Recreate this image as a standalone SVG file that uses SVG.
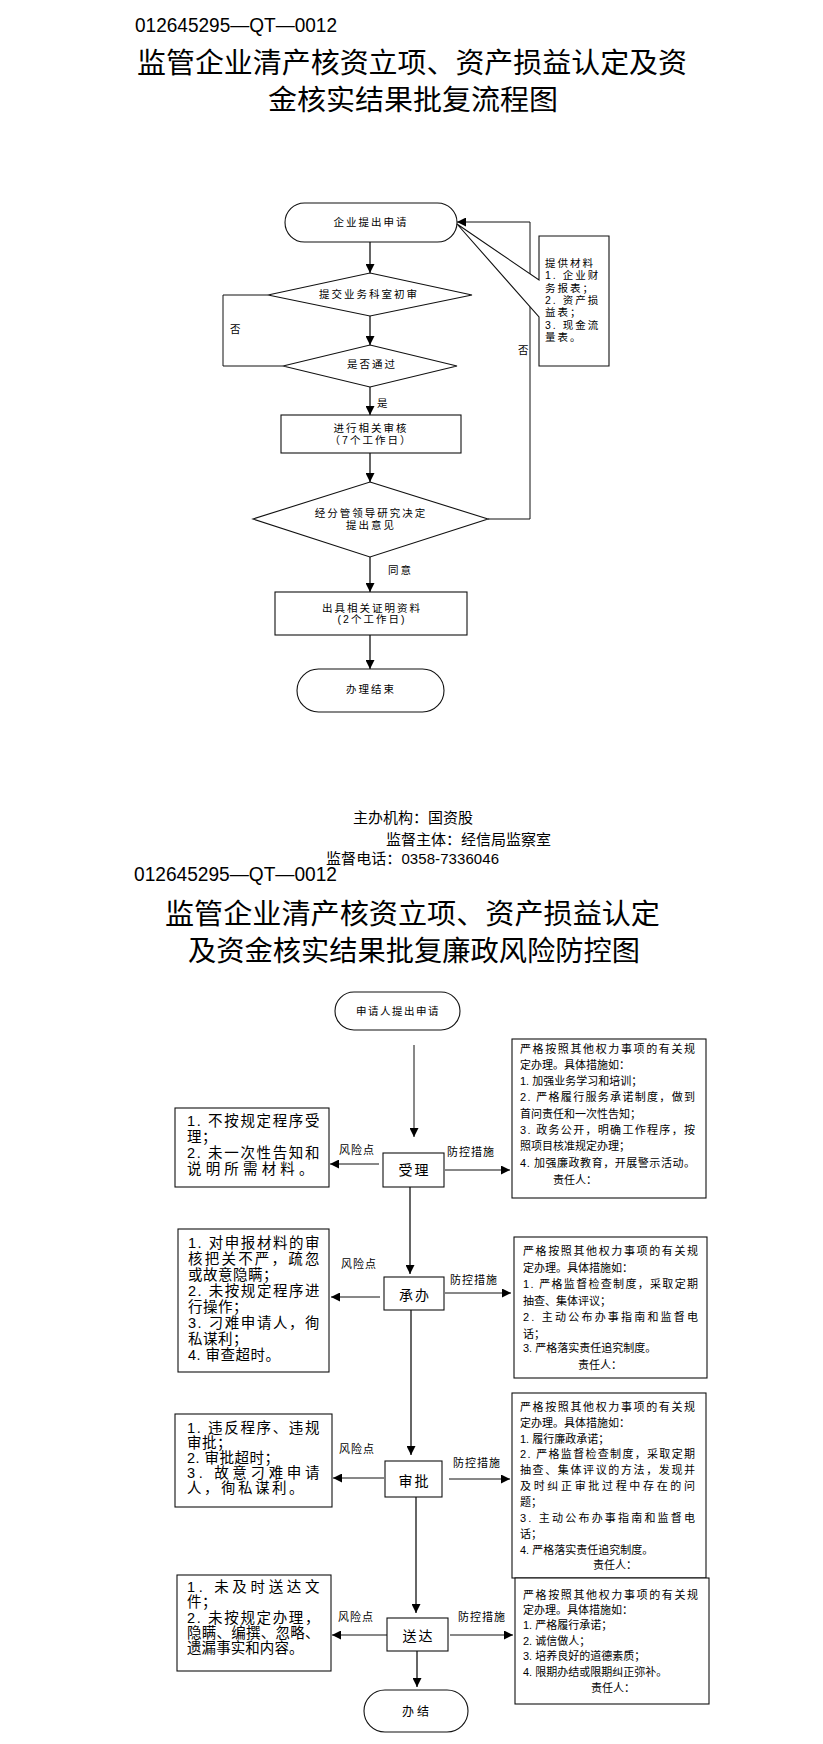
<svg xmlns="http://www.w3.org/2000/svg" width="823" height="1744" viewBox="0 0 823 1744">
<style>
text{font-family:"Liberation Sans","Noto Sans CJK SC",sans-serif;fill:#000;dominant-baseline:central}
.hd{font-size:20px}
.tt{font-size:28px}
.ft{font-size:15px}
.s{font-size:10.5px;letter-spacing:2px;text-anchor:middle}
.sl{font-size:10.5px;letter-spacing:2px}
.lb{font-size:14.5px;letter-spacing:0.5px}
.rb{font-size:11px}
.lab{font-size:11px;letter-spacing:1px}
.ct{font-size:14px;letter-spacing:2px;text-anchor:middle}
.sh{fill:#fff;stroke:#111;stroke-width:1.1}
.ln{fill:none;stroke:#111;stroke-width:1}
.ar{fill:none;stroke:#333;stroke-width:1.5;marker-end:url(#ah)}
.arl{fill:none;stroke:#111;stroke-width:1;marker-end:url(#ah)}
</style>
<defs>
<marker id="ah" markerUnits="userSpaceOnUse" markerWidth="9" markerHeight="9" refX="9" refY="4.5" orient="auto">
<path d="M0,0 L9,4.5 L0,9 z" fill="#000"/>
</marker>
</defs>
<rect width="823" height="1744" fill="#fff"/>

<g id="header1">
<text class="hd" x="135" y="25" textLength="202" lengthAdjust="spacingAndGlyphs">012645295—QT—0012</text>
<text class="tt" x="137" y="63" textLength="550" lengthAdjust="spacingAndGlyphs">监管企业清产核资立项、资产损益认定及资</text>
<text class="tt" x="268" y="100" textLength="290" lengthAdjust="spacingAndGlyphs">金核实结果批复流程图</text>
</g>

<g id="flow1-connectors">
<line class="ar" x1="370" y1="242" x2="370" y2="273"/>
<line class="ar" x1="370" y1="316" x2="370" y2="345"/>
<polyline class="ln" points="283,366 223,366 223,295 268,295"/>
<text class="sl" x="230" y="329">否</text>
<line class="ar" x1="370" y1="387" x2="370" y2="415"/>
<text class="sl" x="377" y="403">是</text>
<line class="ar" x1="370" y1="453" x2="370" y2="482"/>
<polyline class="arl" points="488,519 530,519 530,222 457,222"/>
<text class="sl" x="518" y="350">否</text>
<line class="ar" x1="370" y1="557" x2="370" y2="592"/>
<text class="sl" x="388" y="570">同意</text>
<line class="ar" x1="370" y1="635" x2="370" y2="669"/>
</g>

<g id="f1-start">
<rect class="sh" x="285" y="203" width="172" height="39" rx="19.5"/>
<text class="s" x="371" y="222">企业提出申请</text>
</g>
<g id="f1-review1">
<polygon class="sh" points="370,273 472,295 370,316 268,295"/>
<text class="s" x="369" y="294">提交业务科室初审</text>
</g>
<g id="f1-pass">
<polygon class="sh" points="370,345 457,366 370,387 283,366"/>
<text class="s" x="372" y="364">是否通过</text>
</g>
<g id="f1-audit">
<rect class="sh" x="281" y="415" width="180" height="38"/>
<text class="s" x="371" y="428">进行相关审核</text>
<text class="s" x="371" y="440">（7个工作日）</text>
</g>
<g id="f1-decide">
<polygon class="sh" points="370,482 488,519 370,557 253,519"/>
<text class="s" x="371" y="513">经分管领导研究决定</text>
<text class="s" x="371" y="525">提出意见</text>
</g>
<g id="f1-issue">
<rect class="sh" x="275" y="592" width="192" height="43"/>
<text class="s" x="372" y="608">出具相关证明资料</text>
<text class="s" x="372" y="619">(2个工作日)</text>
</g>
<g id="f1-end">
<rect class="sh" x="297" y="669" width="147" height="43" rx="21.5"/>
<text class="s" x="371" y="689">办理结束</text>
</g>
<g id="f1-callout">
<path class="sh" d="M539,236 H609 V366 H539 V317 L457,224 L539,280 Z"/>
<text class="sl" x="545" y="263">提供材料</text>
<text class="sl" x="545" y="275">1. 企业财</text>
<text class="sl" x="545" y="288">务报表；</text>
<text class="sl" x="545" y="300">2. 资产损</text>
<text class="sl" x="545" y="312">益表；</text>
<text class="sl" x="545" y="325">3. 现金流</text>
<text class="sl" x="545" y="337">量表。</text>
</g>

<g id="footer">
<text class="ft" x="353" y="817" textLength="120">主办机构：国资股</text>
<text class="ft" x="386" y="839" textLength="165">监督主体：经信局监察室</text>
<text class="ft" x="326" y="858" textLength="173">监督电话：0358-7336046</text>
</g>

<g id="header2">
<text class="hd" x="134" y="874" textLength="203" lengthAdjust="spacingAndGlyphs">012645295—QT—0012</text>
<text class="tt" x="165" y="914" textLength="495" lengthAdjust="spacingAndGlyphs">监管企业清产核资立项、资产损益认定</text>
<text class="tt" x="188" y="951" textLength="452" lengthAdjust="spacingAndGlyphs">及资金核实结果批复廉政风险防控图</text>
</g>

<g id="flow2-connectors">
<line class="arl" x1="414" y1="1045" x2="414" y2="1137"/>
<line class="ar" x1="410" y1="1187" x2="410" y2="1274"/>
<line class="ar" x1="411" y1="1310" x2="411" y2="1455"/>
<line class="ar" x1="416" y1="1497" x2="416" y2="1613"/>
<line class="ar" x1="417" y1="1651" x2="417" y2="1687"/>
<line class="arl" x1="379" y1="1164" x2="330" y2="1164"/>
<line class="arl" x1="445" y1="1170" x2="510" y2="1170"/>
<line class="arl" x1="380" y1="1297" x2="331" y2="1297"/>
<line class="arl" x1="445" y1="1293" x2="511" y2="1293"/>
<line class="arl" x1="384" y1="1478" x2="333" y2="1478"/>
<line class="arl" x1="449" y1="1479" x2="510" y2="1479"/>
<line class="arl" x1="387" y1="1635" x2="332" y2="1635"/>
<line class="arl" x1="450" y1="1635" x2="513" y2="1635"/>
<text class="lab" x="339" y="1150">风险点</text>
<text class="lab" x="447" y="1152">防控措施</text>
<text class="lab" x="341" y="1264">风险点</text>
<text class="lab" x="450" y="1280">防控措施</text>
<text class="lab" x="339" y="1449">风险点</text>
<text class="lab" x="453" y="1463">防控措施</text>
<text class="lab" x="338" y="1617">风险点</text>
<text class="lab" x="458" y="1617">防控措施</text>
</g>

<g id="f2-start">
<rect class="sh" x="335" y="992" width="125" height="38" rx="19"/>
<text class="s" x="398" y="1011" style="letter-spacing:1.5px">申请人提出申请</text>
</g>

<g id="f2-accept">
<rect class="sh" x="383" y="1153" width="61" height="34"/>
<text class="ct" x="414.5" y="1170">受理</text>
</g>
<g id="f2-risk1">
<rect class="sh" x="175" y="1108" width="154" height="79"/>
<text class="lb" x="187" y="1121" textLength="133">1. 不按规定程序受</text>
<text class="lb" x="187" y="1137">理；</text>
<text class="lb" x="187" y="1153" textLength="133">2. 未一次性告知和</text>
<text class="lb" x="187" y="1169" textLength="127">说明所需材料。</text>
</g>
<g id="f2-ctrl1">
<rect class="sh" x="512" y="1039" width="194" height="159"/>
<text class="rb" x="520" y="1049" textLength="175">严格按照其他权力事项的有关规</text>
<text class="rb" x="520" y="1065">定办理。具体措施如：</text>
<text class="rb" x="520" y="1081">1. 加强业务学习和培训；</text>
<text class="rb" x="520" y="1097" textLength="175">2. 严格履行服务承诺制度，做到</text>
<text class="rb" x="520" y="1114">首问责任和一次性告知；</text>
<text class="rb" x="520" y="1130" textLength="175">3. 政务公开，明确工作程序，按</text>
<text class="rb" x="520" y="1146">照项目核准规定办理；</text>
<text class="rb" x="520" y="1163" textLength="175">4. 加强廉政教育，开展警示活动。</text>
<text class="rb" x="553" y="1180">责任人：</text>
</g>

<g id="f2-handle">
<rect class="sh" x="384" y="1277" width="60" height="33"/>
<text class="ct" x="415" y="1295">承办</text>
</g>
<g id="f2-risk2">
<rect class="sh" x="178" y="1229" width="151" height="143"/>
<text class="lb" x="188" y="1243" textLength="132">1. 对申报材料的审</text>
<text class="lb" x="188" y="1259" textLength="132">核把关不严，疏忽</text>
<text class="lb" x="188" y="1275">或故意隐瞒；</text>
<text class="lb" x="188" y="1291" textLength="132">2. 未按规定程序进</text>
<text class="lb" x="188" y="1307">行操作；</text>
<text class="lb" x="188" y="1323" textLength="132">3. 刁难申请人，徇</text>
<text class="lb" x="188" y="1339">私谋利；</text>
<text class="lb" x="188" y="1355">4. 审查超时。</text>
</g>
<g id="f2-ctrl2">
<rect class="sh" x="514" y="1237" width="193" height="141"/>
<text class="rb" x="523" y="1251" textLength="175">严格按照其他权力事项的有关规</text>
<text class="rb" x="523" y="1267.5">定办理。具体措施如：</text>
<text class="rb" x="523" y="1284" textLength="175">1. 严格监督检查制度，采取定期</text>
<text class="rb" x="523" y="1300.5">抽查、集体评议；</text>
<text class="rb" x="523" y="1317" textLength="175">2. 主动公布办事指南和监督电</text>
<text class="rb" x="523" y="1333.5">话；</text>
<text class="rb" x="523" y="1348">3. 严格落实责任追究制度。</text>
<text class="rb" x="578" y="1365">责任人：</text>
</g>

<g id="f2-approve">
<rect class="sh" x="385" y="1461" width="57" height="36"/>
<text class="ct" x="414.5" y="1481">审批</text>
</g>
<g id="f2-risk3">
<rect class="sh" x="175" y="1414" width="157" height="93"/>
<text class="lb" x="187" y="1428" textLength="133">1. 违反程序、违规</text>
<text class="lb" x="187" y="1443">审批；</text>
<text class="lb" x="187" y="1458">2. 审批超时；</text>
<text class="lb" x="187" y="1473" textLength="133">3. 故意刁难申请</text>
<text class="lb" x="187" y="1488" textLength="117">人，徇私谋利。</text>
</g>
<g id="f2-ctrl3">
<rect class="sh" x="512" y="1393" width="194" height="185"/>
<text class="rb" x="520" y="1407" textLength="175">严格按照其他权力事项的有关规</text>
<text class="rb" x="520" y="1423">定办理。具体措施如：</text>
<text class="rb" x="520" y="1439">1. 履行廉政承诺；</text>
<text class="rb" x="520" y="1454" textLength="175">2. 严格监督检查制度，采取定期</text>
<text class="rb" x="520" y="1470" textLength="175">抽查、集体评议的方法，发现并</text>
<text class="rb" x="520" y="1486" textLength="175">及时纠正审批过程中存在的问</text>
<text class="rb" x="520" y="1502">题；</text>
<text class="rb" x="520" y="1518" textLength="175">3. 主动公布办事指南和监督电</text>
<text class="rb" x="520" y="1534">话；</text>
<text class="rb" x="520" y="1550">4. 严格落实责任追究制度。</text>
<text class="rb" x="593" y="1565">责任人：</text>
</g>

<g id="f2-deliver">
<rect class="sh" x="387" y="1618" width="61" height="33"/>
<text class="ct" x="418.5" y="1636">送达</text>
</g>
<g id="f2-risk4">
<rect class="sh" x="177" y="1575" width="154" height="96"/>
<text class="lb" x="187" y="1587" textLength="133">1. 未及时送达文</text>
<text class="lb" x="187" y="1602">件；</text>
<text class="lb" x="187" y="1618" textLength="133">2. 未按规定办理，</text>
<text class="lb" x="187" y="1633" textLength="133">隐瞒、编撰、忽略、</text>
<text class="lb" x="187" y="1648" textLength="117">遗漏事实和内容。</text>
</g>
<g id="f2-ctrl4">
<rect class="sh" x="515" y="1578" width="194" height="126"/>
<text class="rb" x="523" y="1595" textLength="175">严格按照其他权力事项的有关规</text>
<text class="rb" x="523" y="1610">定办理。具体措施如：</text>
<text class="rb" x="523" y="1625">1. 严格履行承诺；</text>
<text class="rb" x="523" y="1641">2. 诚信做人；</text>
<text class="rb" x="523" y="1656">3. 培养良好的道德素质；</text>
<text class="rb" x="523" y="1672">4. 限期办结或限期纠正弥补。</text>
<text class="rb" x="591" y="1688">责任人：</text>
</g>

<g id="f2-end">
<rect class="sh" x="364" y="1690" width="104" height="42" rx="21"/>
<text class="s" x="417" y="1712" style="font-size:12px;letter-spacing:3px">办结</text>
</g>
</svg>
